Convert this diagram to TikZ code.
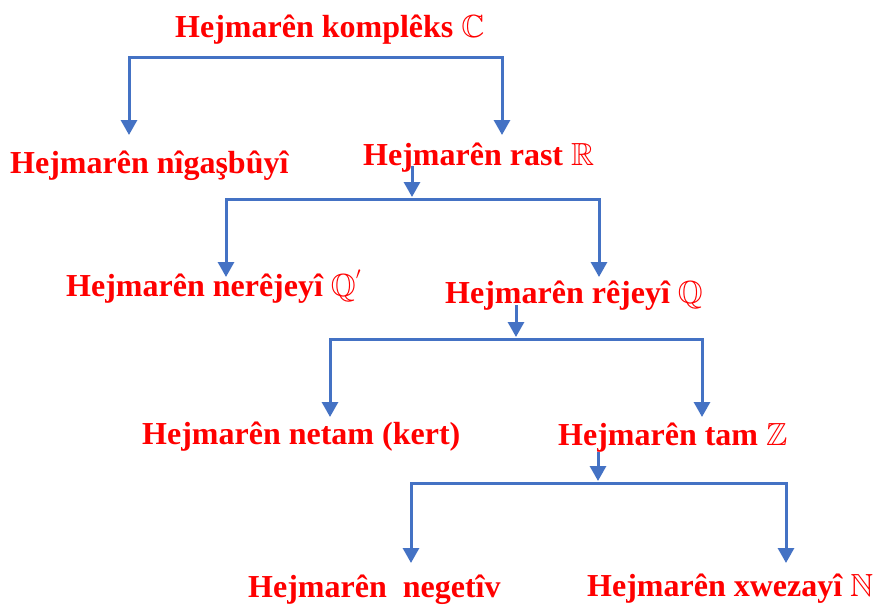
\documentclass[tikz,border=0pt]{standalone}
\usepackage{amssymb}
\usepackage{fontspec}
\setmainfont{Liberation Serif}
\usetikzlibrary{arrows.meta}
\definecolor{linkblue}{HTML}{4472C4}
\definecolor{labelred}{HTML}{FF0000}
\tikzset{
  label/.style={anchor=base west, inner sep=0pt, text=labelred,
    font=\fontsize{32}{38}\selectfont\bfseries},
  link/.style={draw=linkblue, line width=3pt, line cap=rect},
  arrowlink/.style={draw=linkblue, line width=3pt,
    -{Triangle[width=16pt,length=15pt]}},
}
\begin{document}
\begin{tikzpicture}[x=1pt,y=-1pt]
  \useasboundingbox (0,0) rectangle (873,605);

  % number sets
  \node[label] (complex)  at (175,37)  {Hejmarên komplêks $\mathbb{C}$};
  \node[label] (imag)     at (10,173)  {Hejmarên nîgaşbûyî};
  \node[label] (real)     at (363,165) {Hejmarên rast $\mathbb{R}$};
  \node[label] (irr)      at (66,296)  {Hejmarên nerêjeyî $\mathbb{Q}^{'}$};
  \node[label] (rat)      at (445,303) {Hejmarên rêjeyî $\mathbb{Q}$};
  \node[label] (frac)     at (142,444) {Hejmarên netam (kert)};
  \node[label] (int)      at (558,445) {Hejmarên tam $\mathbb{Z}$};
  \node[label] (neg)      at (248,597) {Hejmarên~ negetîv};
  \node[label] (nat)      at (587,596) {Hejmarên xwezayî $\mathbb{N}$};

  % bracket corners and arrow ends
  \coordinate (c1L) at (129,57);  \coordinate (c1R) at (502,57);
  \coordinate (e1L) at (129,135); \coordinate (e1R) at (502,135);

  \coordinate (s2) at (412,166);  \coordinate (j2) at (412,197);
  \coordinate (c2L) at (226,199); \coordinate (c2R) at (599,199);
  \coordinate (e2L) at (226,277); \coordinate (e2R) at (599,277);

  \coordinate (s3) at (516,305);  \coordinate (j3) at (516,337);
  \coordinate (c3L) at (330,339); \coordinate (c3R) at (702,339);
  \coordinate (e3L) at (330,417); \coordinate (e3R) at (702,417);

  \coordinate (s4) at (598,452);  \coordinate (j4) at (598,481);
  \coordinate (c4L) at (411,483); \coordinate (c4R) at (786,483);
  \coordinate (e4L) at (411,563); \coordinate (e4R) at (786,563);

  % complex -> imaginary / real
  \draw[link] (c1L) -- (c1R);
  \draw[arrowlink] (c1L) -- (e1L);
  \draw[arrowlink] (c1R) -- (e1R);

  % real -> irrational / rational
  \draw[arrowlink] (s2) -- (j2);
  \draw[link] (c2L) -- (c2R);
  \draw[arrowlink] (c2L) -- (e2L);
  \draw[arrowlink] (c2R) -- (e2R);

  % rational -> fractions / integers
  \draw[arrowlink] (s3) -- (j3);
  \draw[link] (c3L) -- (c3R);
  \draw[arrowlink] (c3L) -- (e3L);
  \draw[arrowlink] (c3R) -- (e3R);

  % integers -> negative / natural
  \draw[arrowlink] (s4) -- (j4);
  \draw[link] (c4L) -- (c4R);
  \draw[arrowlink] (c4L) -- (e4L);
  \draw[arrowlink] (c4R) -- (e4R);
\end{tikzpicture}
\end{document}
